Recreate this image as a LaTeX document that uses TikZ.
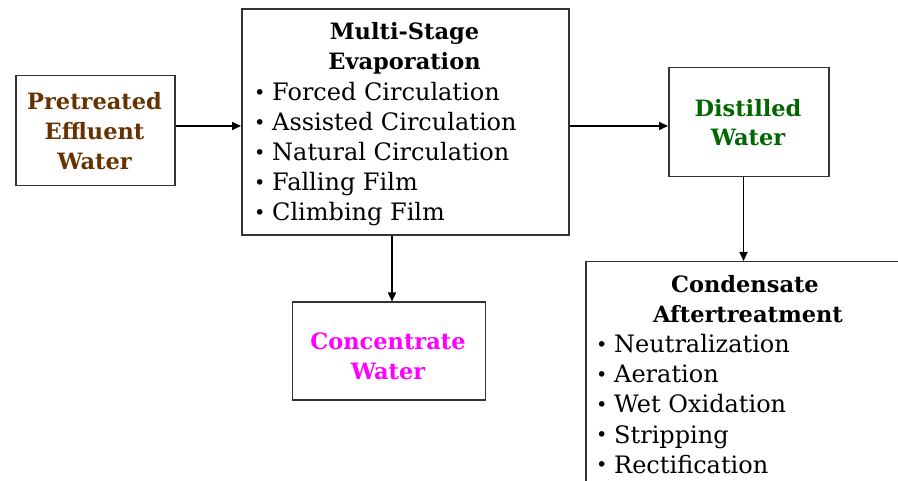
\documentclass[tikz,border=0pt]{standalone}
\usepackage{fontspec}
\setmainfont{DejaVu Serif}
\usetikzlibrary{arrows.meta}
\definecolor{brownT}{HTML}{663300}
\definecolor{greenT}{HTML}{006600}
\definecolor{magT}{HTML}{FF00FF}
\definecolor{edge}{HTML}{333333}
\newcommand{\bul}{\makebox[18pt][l]{\raisebox{0.12ex}{\scalebox{0.8}{•}}}}
\tikzset{
  box/.style={draw=edge, line width=1.5pt, inner sep=0pt, anchor=north west},
  arr/.style={-{Triangle[length=9pt,width=8pt]}, line width=1.6pt, black},
  hd/.style={font=\bfseries\fontsize{22.5}{30}\selectfont, inner sep=0pt, anchor=base},
  it/.style={font=\fontsize{24}{30}\selectfont, inner sep=0pt, anchor=base west},
}
\begin{document}
\begin{tikzpicture}[x=1pt,y=-1pt]
\useasboundingbox (0,0) rectangle (898,481);
\begin{scope}
\clip (0,0) rectangle (898,481);
% boxes
\node[box, minimum width=159pt, minimum height=110pt] (pre) at (15,75) {};
\node[box, minimum width=327pt, minimum height=226pt] (ms) at (241,8.5) {};
\node[box, minimum width=160pt, minimum height=109pt] (dist) at (668,67) {};
\node[box, minimum width=193pt, minimum height=98pt] (conc) at (291.5,301.5) {};
\node[box, minimum width=330pt, minimum height=240pt] (cond) at (585,261) {};
% connectors
\draw[arr] (pre.east |- 0,126) -- (ms.west |- 0,126);
\draw[arr] (ms.east |- 0,126) -- (dist.west |- 0,126);
\draw[arr] (ms.south -| 392,0) -- (conc.north -| 392,0);
\draw[arr] (dist.south -| 743.5,0) -- (cond.north -| 743.5,0);
% texts
\node[hd, text=brownT] (pre1) at (94.5,110) {Pretreated};
\node[hd, text=brownT] (pre2) at (94.5,140) {Effluent};
\node[hd, text=brownT] (pre3) at (94.5,170) {Water};
\node[hd] (ms1) at (404.5,40) {Multi-Stage};
\node[hd] (ms2) at (404.5,70) {Evaporation};
\node[it] (ms3) at (254,101) {\bul Forced Circulation};
\node[it] (ms4) at (254,131) {\bul Assisted Circulation};
\node[it] (ms5) at (254,161) {\bul Natural Circulation};
\node[it] (ms6) at (254,191) {\bul Falling Film};
\node[it] (ms7) at (254,221) {\bul Climbing Film};
\node[hd, text=greenT] (d1) at (748,116.5) {Distilled};
\node[hd, text=greenT] (d2) at (748,146) {Water};
\node[hd, text=magT] (c1) at (388,350) {Concentrate};
\node[hd, text=magT] (c2) at (388,380) {Water};
\node[hd] (k1) at (745,293) {Condensate};
\node[hd] (k2) at (748,323) {Aftertreatment};
\node[it] (k3) at (596,353) {\bul Neutralization};
\node[it] (k4) at (596,383) {\bul Aeration};
\node[it] (k5) at (596,413) {\bul Wet Oxidation};
\node[it] (k6) at (596,443) {\bul Stripping};
\node[it] (k7) at (596,473) {\bul Rectification};
\end{scope}
\end{tikzpicture}
\end{document}
